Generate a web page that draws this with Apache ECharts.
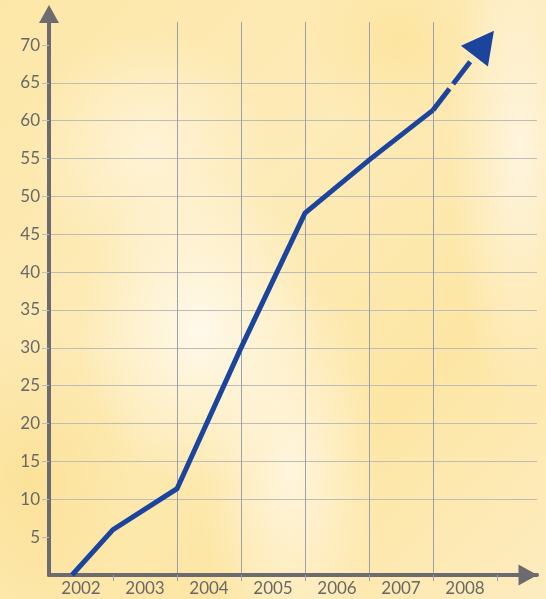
<!DOCTYPE html>
<html>
<head>
<meta charset="utf-8">
<script src="https://cdn.jsdelivr.net/npm/echarts@6/dist/echarts.min.js"></script>
<style>
html,body{margin:0;padding:0;}
body{width:546px;height:599px;overflow:hidden;
background:
 radial-gradient(ellipse 120px 160px at 200px 330px, rgba(255,250,238,0.95), rgba(255,250,238,0) 100%),
 radial-gradient(ellipse 90px 200px at 290px 470px, rgba(255,247,228,0.9), rgba(255,247,228,0) 100%),
 radial-gradient(ellipse 70px 260px at 520px 150px, rgba(255,245,225,0.95), rgba(255,245,225,0) 100%),
 radial-gradient(ellipse 120px 120px at 150px 150px, rgba(255,246,225,0.8), rgba(255,246,225,0) 100%),
 radial-gradient(ellipse 100px 90px at 400px 40px, rgba(253,226,150,0.7), rgba(253,226,150,0) 100%),
 radial-gradient(ellipse 110px 160px at 30px 480px, rgba(251,222,140,0.7), rgba(251,222,140,0) 100%),
 linear-gradient(135deg, #fde7a8 0%, #fdebb8 40%, #fde6a4 70%, #fdecc0 100%);
}
#c{width:546px;height:599px;}
</style>
</head>
<body>
<div id="c"></div>
<script>
// Category labels (centred between grid lines)
const years = ['2002', '2003', '2004', '2005', '2006', '2007', '2008'];
// Line points: horizontal position in year-cell units, value on y axis
const pointX = [0.36, 1, 2, 3, 4, 5, 6];
const pointY = [0, 6, 11.4, 30, 47.8, 54.8, 61.4];
// Dashed trend arrow: start and end (data units)
const arrowStart = [6, 61.4];
const arrowEnd = [6.8, 70.2];
// Tick values
const yTicks = [5, 10, 15, 20, 25, 30, 35, 40, 45, 50, 55, 60, 65, 70];
const xGridTicks = [1, 2, 3, 4, 5, 6, 7];
const xLabelPos = [0.5, 1.5, 2.5, 3.5, 4.5, 5.5, 6.5];

const lineColor = '#1b449d';
const axisColor = '#6c6c70';
const labelColor = '#686868';
const vGridColor = '#99a0b4';
const hGridColor = '#bebcb6';

const chart = echarts.init(document.getElementById('c'), null, {renderer: 'canvas'});
chart.setOption({
  animation: false,
  backgroundColor: 'transparent',
  grid: {left: 49, top: 22, right: 9, bottom: 24, containLabel: false},
  xAxis: {
    type: 'value', min: 0, max: 7.625, interval: 1,
    axisLine: {show: true, onZero: false, symbol: ['none', 'triangle'], symbolSize: [21, 19], symbolOffset: [0, -9],
      lineStyle: {color: axisColor, width: 4}},
    axisTick: {show: true, customValues: xGridTicks, length: 6, inside: false, lineStyle: {color: vGridColor, width: 1}},
    axisLabel: {show: true, customValues: xLabelPos, margin: 5,
      formatter: v => years[Math.floor(v)] || '',
      color: labelColor, fontFamily: 'Lato', fontSize: 17},
    splitLine: {show: true, showMinLine: false, showMaxLine: false, lineStyle: {color: vGridColor, width: 1}}
  },
  yAxis: {
    type: 'value', min: 0, max: 73.04, interval: 5,
    axisLine: {show: true, onZero: false, symbol: ['none', 'triangle'], symbolSize: [20, 18], symbolOffset: [0, 8],
      lineStyle: {color: axisColor, width: 4}},
    axisTick: {show: true, customValues: yTicks, length: 7, lineStyle: {color: hGridColor, width: 1}},
    axisLabel: {show: true, customValues: yTicks, margin: 9, color: labelColor, fontFamily: 'Lato', fontSize: 17},
    splitLine: {show: true, showMinLine: false, showMaxLine: false, lineStyle: {color: hGridColor, width: 1}}
  },
  series: [{
    type: 'line',
    data: pointX.map((x, i) => [x, pointY[i]]),
    symbol: 'none',
    clip: false,
    lineStyle: {color: lineColor, width: 5, join: 'miter'},
    z: 5,
    markLine: {
      silent: true,
      symbol: ['none', 'triangle'],
      symbolSize: [34, 32],
      label: {show: false},
      lineStyle: {color: lineColor, width: 5, type: [27, 6, 28, 300], opacity: 1},
      data: [[{coord: arrowStart}, {coord: arrowEnd}]]
    }
  }]
});
</script>
</body>
</html>
